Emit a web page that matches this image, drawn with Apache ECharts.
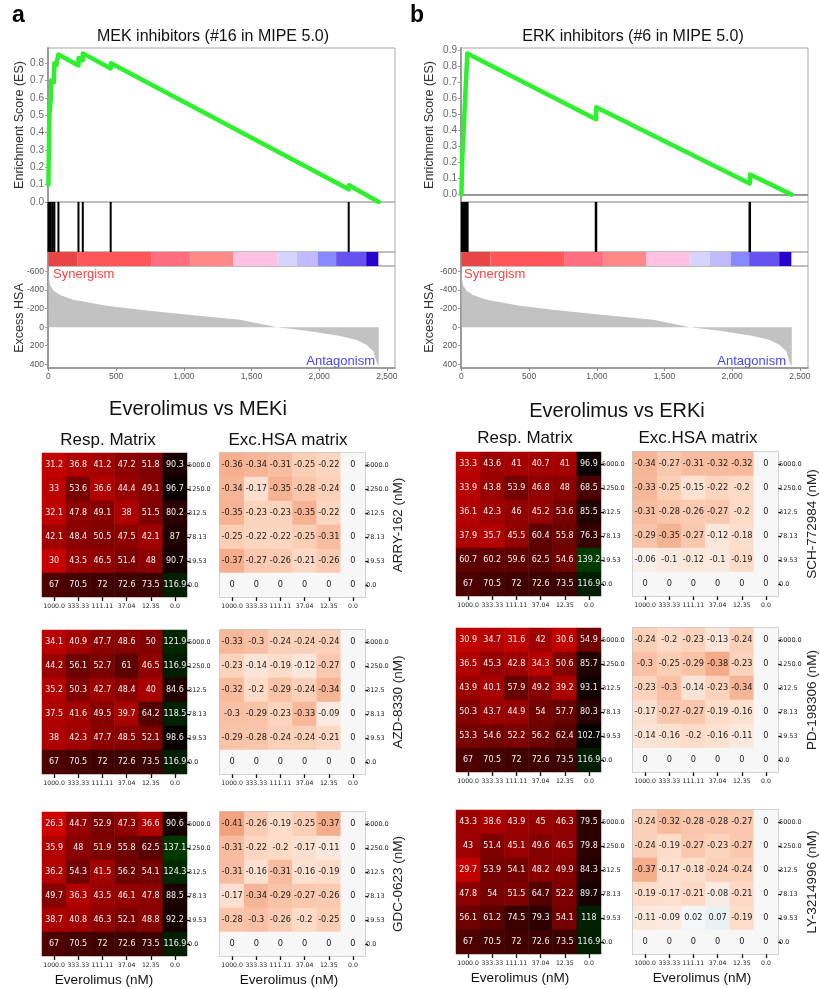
<!DOCTYPE html>
<html><head><meta charset="utf-8">
<script src="https://cdn.jsdelivr.net/npm/echarts@6/dist/echarts.min.js"></script>
<style>html,body{margin:0;padding:0;background:#fff}#c{width:819px;height:989px}</style>
</head><body><div id="c"></div>
<script>
// ---------------- GSEA data ----------------
const rankTicks = [0, 500, 1000, 1500, 2000, 2500];
const esTicksMEK = [0, 0.1, 0.2, 0.3, 0.4, 0.5, 0.6, 0.7, 0.8];
const esTicksERK = [0, 0.1, 0.2, 0.3, 0.4, 0.5, 0.6, 0.7, 0.8, 0.9];
const excessTicks = [-600, -400, -200, 0, 200, 400];

const esMEK = [[0,0.1],[6,0.1],[7,0.5],[16,0.5],[18,0.6],[20,0.7],[40,0.69],[44,0.8],[60,0.79],[62,0.81],[72,0.8],[74,0.85],[222,0.787],[223,0.83],[253,0.817],[254,0.857],[460,0.77],[462,0.8],[2218,0.073],[2220,0.097],[2440,0.0]];
const hitsMEK = [1, 7, 18, 32, 44, 74, 222, 254, 460, 2218];

const esERK = [[0,0],[5,-0.003],[6,0.22],[18,0.215],[19,0.44],[30,0.435],[31,0.665],[43,0.66],[44,0.88],[994,0.47],[996,0.545],[2130,0.07],[2132,0.125],[2440,0.0]];
const hitsERK = [5, 12, 18, 24, 30, 37, 44, 994, 2130];

const excessRank  = [0, 3, 12, 37, 86, 185, 431, 677, 923, 1170, 1416, 1690, 1908, 2155, 2278, 2352, 2401, 2426, 2440];
const excessValue = [-620, -540, -456, -395, -348, -295, -230, -187, -151, -115, -79, 0, 37, 94, 137, 191, 263, 385, 420];

const barEdges  = [0, 214, 759, 1047, 1367, 1692, 1835, 1990, 2125, 2347, 2437];
const barColors = ['#e84545','#ff5757','#ff6f7f','#ff8888','#ffc2e4','#d4d4ff','#c2baff','#8888ff','#6652ee','#2800cc'];

// ---------------- Heatmap data ----------------
const everolimusConc = ['1000.0','333.33','111.11','37.04','12.35','0.0'];
const inhibitorConc  = ['5000.0','1250.0','312.5','78.13','19.53','0.0'];

const respARRY = [[31.2,36.8,41.2,47.2,51.8,90.3],[33,53.6,36.6,44.4,49.1,96.7],[32.1,47.8,49.1,38,51.5,80.2],[42.1,48.4,50.5,47.5,42.1,87],[30,43.5,46.5,51.4,48,90.7],[67,70.5,72,72.6,73.5,116.9]];
const excARRY  = [[-0.36,-0.34,-0.31,-0.25,-0.22,0],[-0.34,-0.17,-0.35,-0.28,-0.24,0],[-0.35,-0.23,-0.23,-0.35,-0.22,0],[-0.25,-0.22,-0.22,-0.25,-0.31,0],[-0.37,-0.27,-0.26,-0.21,-0.26,0],[0,0,0,0,0,0]];
const respAZD  = [[34.1,40.9,47.7,48.6,50,121.9],[44.2,56.1,52.7,61,46.5,116.9],[35.2,50.3,42.7,48.4,40,84.6],[37.5,41.6,49.5,39.7,64.2,118.5],[38,42.3,47.7,48.5,52.1,98.6],[67,70.5,72,72.6,73.5,116.9]];
const excAZD   = [[-0.33,-0.3,-0.24,-0.24,-0.24,0],[-0.23,-0.14,-0.19,-0.12,-0.27,0],[-0.32,-0.2,-0.29,-0.24,-0.34,0],[-0.3,-0.29,-0.23,-0.33,-0.09,0],[-0.29,-0.28,-0.24,-0.24,-0.21,0],[0,0,0,0,0,0]];
const respGDC  = [[26.3,44.7,52.9,47.3,36.6,90.6],[35.9,48,51.9,55.8,62.5,137.1],[36.2,54.3,41.5,56.2,54.1,124.3],[49.7,36.3,43.5,46.1,47.8,88.5],[38.7,40.8,46.3,52.1,48.8,92.2],[67,70.5,72,72.6,73.5,116.9]];
const excGDC   = [[-0.41,-0.26,-0.19,-0.25,-0.37,0],[-0.31,-0.22,-0.2,-0.17,-0.11,0],[-0.31,-0.16,-0.31,-0.16,-0.19,0],[-0.17,-0.34,-0.29,-0.27,-0.26,0],[-0.28,-0.3,-0.26,-0.2,-0.25,0],[0,0,0,0,0,0]];
const respSCH  = [[33.3,43.6,41,40.7,41,96.9],[33.9,43.8,53.9,46.8,48,68.5],[36.1,42.3,46,45.2,53.6,85.5],[37.9,35.7,45.5,60.4,55.8,76.3],[60.7,60.2,59.6,62.5,54.6,139.2],[67,70.5,72,72.6,73.5,116.9]];
const excSCH   = [[-0.34,-0.27,-0.31,-0.32,-0.32,0],[-0.33,-0.25,-0.15,-0.22,-0.2,0],[-0.31,-0.28,-0.26,-0.27,-0.2,0],[-0.29,-0.35,-0.27,-0.12,-0.18,0],[-0.06,-0.1,-0.12,-0.1,-0.19,0],[0,0,0,0,0,0]];
const respPD   = [[30.9,34.7,31.6,42,30.6,54.9],[36.5,45.3,42.8,34.3,50.6,85.7],[43.9,40.1,57.9,49.2,39.2,93.1],[50.3,43.7,44.9,54,57.7,80.3],[53.3,54.6,52.2,56.2,62.4,102.7],[67,70.5,72,72.6,73.5,116.9]];
const excPD    = [[-0.24,-0.2,-0.23,-0.13,-0.24,0],[-0.3,-0.25,-0.29,-0.38,-0.23,0],[-0.23,-0.3,-0.14,-0.23,-0.34,0],[-0.17,-0.27,-0.27,-0.19,-0.16,0],[-0.14,-0.16,-0.2,-0.16,-0.11,0],[0,0,0,0,0,0]];
const respLY   = [[43.3,38.6,43.9,45,46.3,79.5],[43,51.4,45.1,49.6,46.5,79.8],[29.7,53.9,54.1,48.2,49.9,84.3],[47.8,54,51.5,64.7,52.2,89.7],[56.1,61.2,74.5,79.3,54.1,118],[67,70.5,72,72.6,73.5,116.9]];
const excLY    = [[-0.24,-0.32,-0.28,-0.28,-0.27,0],[-0.24,-0.19,-0.27,-0.23,-0.27,0],[-0.37,-0.17,-0.18,-0.24,-0.24,0],[-0.19,-0.17,-0.21,-0.08,-0.21,0],[-0.11,-0.09,0.02,0.07,-0.19,0],[0,0,0,0,0,0]];

// ---------------- build ----------------
const FONT = '"Liberation Sans", Arial, sans-serif';
const MPL = '"DejaVu Sans", sans-serif';
const grid = [], xAxis = [], yAxis = [], series = [], graphic = [];
const respIdx = [], excIdx = [];

function addGsea(left, esMin, esMax, esTicks, esData, hits, zeroLine, hitWidth) {
  const g0 = grid.length;
  const tops = [48, 202, 252, 266], heights = [154, 50, 14, 102];
  for (let i = 0; i < 4; i++) {
    grid.push({left: left, top: tops[i], width: 347, height: heights[i], show: true,
      borderColor: '#a8a8a8', borderWidth: 1, backgroundColor: 'rgba(0,0,0,0)'});
    const bottom = i === 3;
    xAxis.push({type: 'value', gridIndex: g0 + i, min: -3, max: 2560,
      axisLine: {show: bottom, onZero: false, lineStyle: {color: '#8a8a8a', width: 1.5}},
      axisTick: {show: bottom, customValues: rankTicks, length: 3, lineStyle: {color: '#8a8a8a'}},
      axisLabel: {show: bottom, customValues: rankTicks, formatter: v => v.toLocaleString('en-US'),
        fontSize: 8.5, color: '#555', fontFamily: FONT, margin: 4},
      splitLine: {show: false}});
  }
  yAxis.push({type: 'value', gridIndex: g0, min: esMin, max: esMax,
    axisLine: {show: true, onZero: false, lineStyle: {color: '#9a9a9a', width: 2}},
    axisTick: {show: true, customValues: esTicks, length: 3, lineStyle: {color: '#9a9a9a'}},
    axisLabel: {customValues: esTicks, formatter: v => v.toFixed(1), fontSize: 10, color: '#6a6a6a', fontFamily: FONT, margin: 4},
    splitLine: {show: false}});
  for (let i = 1; i <= 2; i++) {
    yAxis.push({type: 'value', gridIndex: g0 + i, min: 0, max: 1,
      axisLine: {show: true, onZero: false, lineStyle: {color: '#9a9a9a', width: 2}},
      axisTick: {show: false}, axisLabel: {show: false}, splitLine: {show: false}});
  }
  yAxis.push({type: 'value', gridIndex: g0 + 3, inverse: true, min: -660, max: 440,
    axisLine: {show: true, onZero: false, lineStyle: {color: '#9a9a9a', width: 2}},
    axisTick: {show: true, customValues: excessTicks, length: 3, lineStyle: {color: '#9a9a9a'}},
    axisLabel: {customValues: excessTicks, fontSize: 8.5, color: '#555', fontFamily: FONT, margin: 4},
    splitLine: {show: false}});

  const es = {type: 'line', xAxisIndex: g0, yAxisIndex: g0, data: esData, symbol: 'none',
    lineStyle: {color: '#2ef02e', width: 4.5, cap: 'round', join: 'round'}, z: 5, animation: false};
  if (zeroLine) {
    es.markLine = {silent: true, symbol: 'none', animation: false, label: {show: false},
      lineStyle: {color: '#777', width: 1.5, type: 'solid'}, data: [{yAxis: 0}]};
  }
  series.push(es);
  series.push({type: 'bar', xAxisIndex: g0 + 1, yAxisIndex: g0 + 1, data: hits.map(r => [r, 1]),
    barWidth: hitWidth, itemStyle: {color: '#000'}, animation: false});
  series.push({type: 'custom', xAxisIndex: g0 + 2, yAxisIndex: g0 + 2, animation: false,
    data: barColors.map((c, k) => ({value: [barEdges[k], barEdges[k + 1]], itemStyle: {color: c}})),
    renderItem: (params, api) => {
      const p0 = api.coord([api.value(0), 1]);
      const p1 = api.coord([api.value(1), 0]);
      return {type: 'rect', shape: {x: p0[0], y: p0[1], width: p1[0] - p0[0], height: p1[1] - p0[1]},
        style: {fill: api.visual('color')}};
    }});
  series.push({type: 'line', xAxisIndex: g0 + 3, yAxisIndex: g0 + 3,
    data: excessRank.map((r, k) => [r, excessValue[k]]), symbol: 'none',
    lineStyle: {width: 0}, areaStyle: {color: '#c2c2c2', opacity: 1}, animation: false});
}

addGsea(48, 0, 0.888, esTicksMEK, esMEK, hitsMEK, false, 2);
addGsea(461, -0.046, 0.914, esTicksERK, esERK, hitsERK, true, 2.5);

function addHeat(left, top, width, data, isResp) {
  const gi = grid.length;
  grid.push({left: left, top: top, width: width, height: 144, show: !isResp,
    borderColor: '#b4b4b4', borderWidth: 1.5, backgroundColor: 'rgba(0,0,0,0)'});
  xAxis.push({type: 'category', gridIndex: gi, data: everolimusConc, position: 'bottom',
    axisLine: {show: false}, splitLine: {show: false},
    axisTick: {show: true, alignWithLabel: true, interval: 0, length: 4, lineStyle: {color: '#111', width: 1.3}},
    axisLabel: {interval: 0, fontSize: 6.2, fontFamily: MPL, color: '#222', margin: 6}});
  yAxis.push({type: 'category', gridIndex: gi, data: inhibitorConc, inverse: true, position: 'right',
    axisLine: {show: false}, splitLine: {show: false},
    axisTick: {show: true, alignWithLabel: true, interval: 0, length: 3, lineStyle: {color: '#111', width: 1.3}},
    axisLabel: {interval: 0, fontSize: 6.5, fontFamily: MPL, color: '#222', margin: 1}});
  const d = [];
  data.forEach((row, r) => row.forEach((v, c) => d.push([c, r, v])));
  series.push({type: 'heatmap', xAxisIndex: gi, yAxisIndex: gi, data: d, animation: false,
    label: {show: true, formatter: p => String(p.value[2]), color: isResp ? '#f4f4f4' : '#1a1a1a',
      fontSize: isResp ? 8 : 8.2, fontFamily: MPL},
    emphasis: {disabled: true}, itemStyle: {borderWidth: 0}});
  (isResp ? respIdx : excIdx).push(series.length - 1);
}

const blocks = [
  {resp: respARRY, exc: excARRY, name: 'ARRY-162 (nM)',   rl: 42,  el: 220, top: 453, lx: 398},
  {resp: respAZD,  exc: excAZD,  name: 'AZD-8330 (nM)',   rl: 42,  el: 220, top: 630, lx: 398},
  {resp: respGDC,  exc: excGDC,  name: 'GDC-0623 (nM)',   rl: 42,  el: 220, top: 812, lx: 398},
  {resp: respSCH,  exc: excSCH,  name: 'SCH-772984 (nM)', rl: 456, el: 633, top: 452, lx: 812},
  {resp: respPD,   exc: excPD,   name: 'PD-198306 (nM)',  rl: 456, el: 633, top: 628, lx: 812},
  {resp: respLY,   exc: excLY,   name: 'LY-3214996 (nM)', rl: 456, el: 633, top: 810, lx: 812}
];
blocks.forEach(b => {
  addHeat(b.rl, b.top, 145, b.resp, true);
  addHeat(b.el, b.top, 145, b.exc, false);
  graphic.push({type: 'text', x: b.lx, y: b.top + 72, rotation: Math.PI / 2,
    style: {text: b.name, font: '13.5px ' + FONT, fill: '#222', align: 'center', verticalAlign: 'middle'}});
});

function txt(text, x, y, size, opt) {
  opt = opt || {};
  graphic.push({type: 'text', x: x, y: y, rotation: opt.rot || 0,
    style: {text: text, font: (opt.bold ? 'bold ' : '') + size + 'px ' + FONT, fill: opt.color || '#111',
      align: opt.align || 'center', verticalAlign: 'middle'}});
}
txt('a', 12, 16, 23, {bold: true, align: 'left', color: '#000'});
txt('b', 410, 16, 23, {bold: true, align: 'left', color: '#000'});
txt('MEK inhibitors (#16 in MIPE 5.0)', 213, 37, 16);
txt('ERK inhibitors (#6 in MIPE 5.0)', 633, 37, 16);
txt('Enrichment Score (ES)', 20, 125, 12.5, {rot: Math.PI / 2, color: '#333'});
txt('Enrichment Score (ES)', 430, 125, 12.5, {rot: Math.PI / 2, color: '#333'});
txt('Excess HSA', 20, 318, 12.5, {rot: Math.PI / 2, color: '#333'});
txt('Excess HSA', 430, 318, 12.5, {rot: Math.PI / 2, color: '#333'});
txt('Synergism', 53, 274, 13, {align: 'left', color: '#ff4040'});
txt('Synergism', 464, 274, 13, {align: 'left', color: '#ff4040'});
txt('Antagonism', 375, 361, 13, {align: 'right', color: '#4848ff'});
txt('Antagonism', 786, 361, 13, {align: 'right', color: '#4848ff'});
txt('Everolimus vs MEKi', 198, 409, 20);
txt('Everolimus vs ERKi', 617, 411, 20);
txt('Resp. Matrix', 108, 440, 17);
txt('Exc.HSA matrix', 288, 440, 17);
txt('Resp. Matrix', 525, 438, 17);
txt('Exc.HSA matrix', 698, 438, 17);
txt('Everolimus (nM)', 104, 980, 13.5);
txt('Everolimus (nM)', 289, 980, 13.5);
txt('Everolimus (nM)', 520, 978, 13.5);
txt('Everolimus (nM)', 702, 978, 13.5);

const chart = echarts.init(document.getElementById('c'));
chart.setOption({
  animation: false,
  backgroundColor: '#fff',
  grid: grid, xAxis: xAxis, yAxis: yAxis, series: series, graphic: graphic,
  visualMap: [
    {type: 'continuous', show: false, seriesIndex: respIdx, min: 20, max: 180, dimension: 2,
      inRange: {color: ['#e00000','#a80000','#600000','#2c0000','#050000','#002400','#003c00','#005000','#006400']}},
    {type: 'continuous', show: false, seriesIndex: excIdx, min: -1, max: 1, dimension: 2,
      inRange: {color: ['#67001f','#b2182b','#d6604d','#f4a582','#fddbc7','#f7f7f7','#d1e5f0','#92c5de','#4393c3','#2166ac','#053061']}}
  ]
});
</script></body></html>
